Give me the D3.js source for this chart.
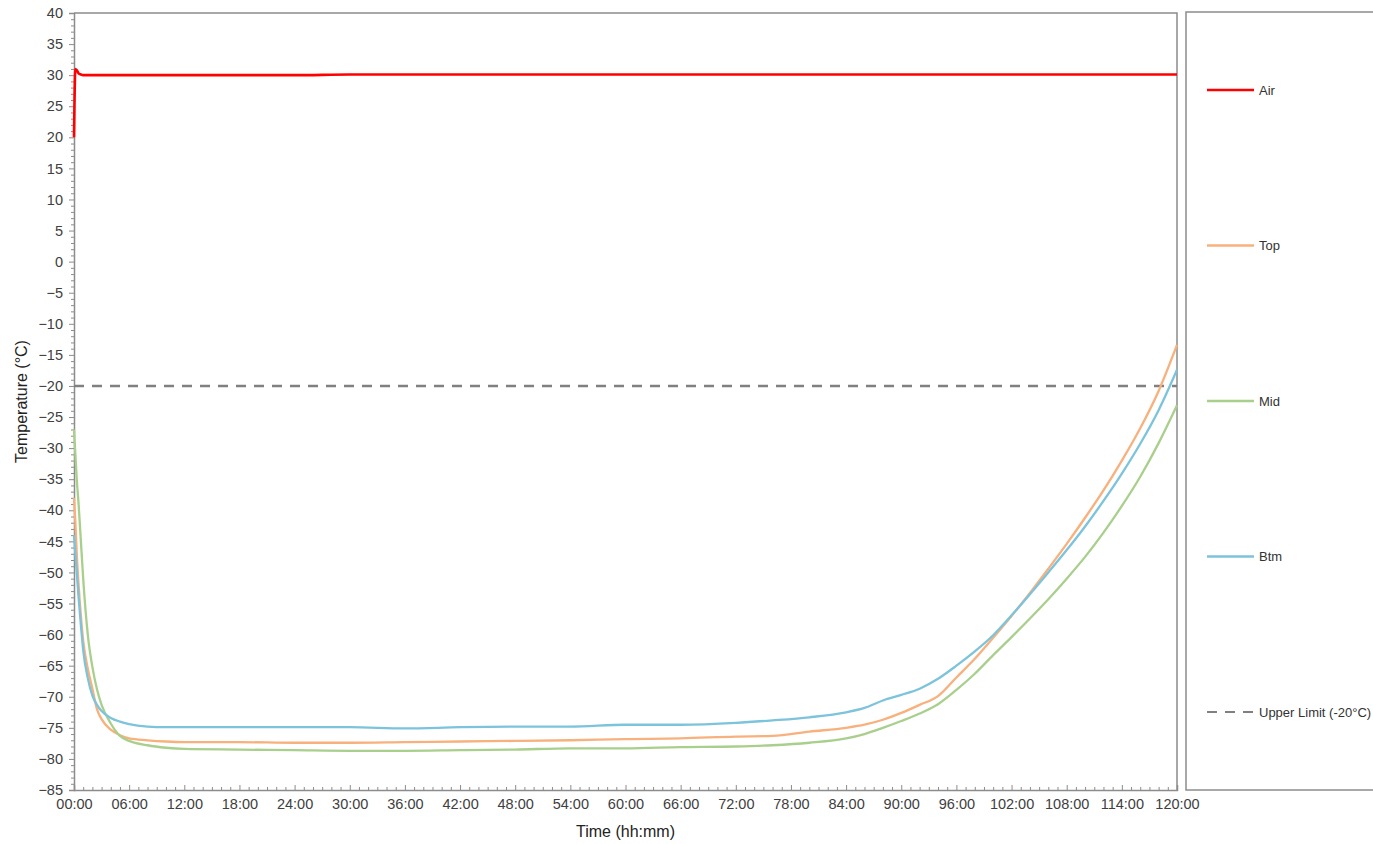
<!DOCTYPE html>
<html><head><meta charset="utf-8">
<script src="https://cdn.jsdelivr.net/npm/d3@7"></script>
<style>
html,body{margin:0;padding:0;background:#fff;}
svg{display:block;font-family:"Liberation Sans",Arial,sans-serif;}
</style></head>
<body><svg id="chart" width="1373" height="844"></svg>
<script>
// ---- data (hours, °C) ----
const times = [0,0.15,0.3,0.5,0.75,1,1.5,2,2.5,3,4,5,6,8,10,12,18,24,30,36,42,48,54,60,66,72,76,80,84,86,88,90,92,94,96,98,100,102,104,106,108,110,112,114,116,118,120];
const airValues = [20,31,30.8,30.3,30.1,30,30,30,30,30,30,30,30,30,30,30,30,30,30.1,30.1,30.1,30.1,30.1,30.1,30.1,30.1,30.1,30.1,30.1,30.1,30.1,30.1,30.1,30.1,30.1,30.1,30.1,30.1,30.1,30.1,30.1,30.1,30.1,30.1,30.1,30.1,30.1];
const topValues = [-38,-42,-47,-52,-57,-61,-65.5,-68.7,-72,-73.6,-75.3,-76.2,-76.7,-77.0,-77.2,-77.3,-77.3,-77.4,-77.4,-77.3,-77.2,-77.1,-77.0,-76.8,-76.7,-76.4,-76.3,-75.6,-75.0,-74.5,-73.7,-72.6,-71.3,-69.9,-66.9,-63.9,-60.5,-57.0,-53.3,-49.4,-45.4,-41.2,-36.8,-32.0,-26.8,-20.8,-13.4];
const midValues = [-27,-31,-35,-39,-45,-51,-60,-65.2,-68.8,-71.3,-74.3,-76.3,-77.1,-77.8,-78.2,-78.4,-78.5,-78.6,-78.7,-78.7,-78.6,-78.5,-78.3,-78.3,-78.1,-78.0,-77.8,-77.4,-76.7,-76.0,-75.0,-73.9,-72.7,-71.2,-68.9,-66.3,-63.3,-60.4,-57.4,-54.3,-51.0,-47.5,-43.6,-39.3,-34.6,-29.2,-23.1];
const btmValues = [-44,-47,-50,-54,-58.5,-62.5,-67,-69.8,-71.3,-72.3,-73.4,-74.0,-74.4,-74.8,-74.9,-74.9,-74.9,-74.9,-74.9,-75.1,-74.9,-74.8,-74.8,-74.5,-74.5,-74.2,-73.8,-73.3,-72.5,-71.8,-70.6,-69.7,-68.7,-67.1,-65.0,-62.7,-60.1,-56.9,-53.5,-50.0,-46.4,-42.6,-38.5,-34.1,-29.3,-23.9,-17.4];
const upperLimit = -20;
const seriesNames = ["Air","Top","Mid","Btm"];
const seriesColors = ["#ff0000","#f8b07c","#a9cf8c","#7cc3dc"];
const xTickHours = d3.range(0,121,6);
const yTickValues = d3.range(-85,41,5);

// ---- layout ----
const svg = d3.select("#chart");
const L = 74, R = 1177, T = 13, B = 790;
const x = d3.scaleLinear().domain([0,120]).range([L,R]);
const y = d3.scaleLinear().domain([-85,40]).range([B,T]);
const axisColor = "#8c8c8c", textColor = "#404040";

const fmt = h => String(h).padStart(2,"0") + ":00";

// frame (top and right)
svg.append("path").attr("d",`M${L},${T}H${R}V${B}`).attr("fill","none").attr("stroke",axisColor).attr("stroke-width",1.5);

// y axis
const yAxis = d3.axisLeft(y).tickValues(yTickValues).tickSize(5).tickPadding(6);
const gy = svg.append("g").attr("transform",`translate(${L},0)`).call(yAxis);
gy.select(".domain").attr("stroke",axisColor).attr("stroke-width",1.5);
gy.selectAll(".tick line").attr("stroke",axisColor);
gy.selectAll("text").attr("fill",textColor).style("font-size","14.5px");
const gym = svg.append("g").attr("transform",`translate(${L},0)`).call(d3.axisLeft(y).tickValues(d3.range(-85,41,1).filter(v=>v%5!==0)).tickSize(3).tickFormat(""));
gym.select(".domain").remove();
gym.selectAll(".tick line").attr("stroke",axisColor);

// x axis
const xAxis = d3.axisBottom(x).tickValues(xTickHours).tickFormat(fmt).tickSize(-5).tickPadding(9);
const gx = svg.append("g").attr("transform",`translate(0,${B})`).call(xAxis);
gx.select(".domain").attr("stroke",axisColor).attr("stroke-width",1.5);
gx.selectAll(".tick line").attr("stroke",axisColor);
gx.selectAll("text").attr("fill",textColor).style("font-size","14.5px");
const gxm = svg.append("g").attr("transform",`translate(0,${B})`).call(d3.axisBottom(x).tickValues(d3.range(0,121,1).filter(v=>v%6!==0)).tickSize(-3).tickFormat(""));
gxm.select(".domain").remove();
gxm.selectAll(".tick line").attr("stroke",axisColor);

// axis titles
svg.append("text").attr("transform",`translate(27,${(T+B)/2}) rotate(-90)`).attr("text-anchor","middle").attr("fill","#222").style("font-size","16px").text("Temperature (°C)");
svg.append("text").attr("x",(L+R)/2).attr("y",837).attr("text-anchor","middle").attr("fill","#222").style("font-size","16px").text("Time (hh:mm)");

// upper limit
svg.append("line").attr("x1",x(0)).attr("x2",x(120)).attr("y1",y(upperLimit)).attr("y2",y(upperLimit))
  .attr("stroke","#808080").attr("stroke-width",2.5).attr("stroke-dasharray","10,8");

// series
const allValues = [airValues, topValues, midValues, btmValues];
const line = d3.line().x(d=>x(d[0])).y(d=>y(d[1])).curve(d3.curveMonotoneX);
const drawOrder = [1,2,3,0];
drawOrder.forEach(i=>{
  const pts = times.map((t,k)=>[t, allValues[i][k]]);
  svg.append("path").datum(pts).attr("d",line).attr("fill","none")
    .attr("stroke",seriesColors[i]).attr("stroke-width",i===0?2.6:2.3).attr("stroke-linejoin","round");
});

// legend
svg.append("rect").attr("x",1186).attr("y",12).attr("width",260).attr("height",778).attr("fill","none").attr("stroke",axisColor).attr("stroke-width",1.5);
const legendItems = seriesNames.map((n,i)=>({name:n,color:seriesColors[i],dash:null,w:i===0?2.6:2.3}))
  .concat([{name:"Upper Limit (-20°C)",color:"#808080",dash:"10,8",w:2}]);
const ly = d3.scalePoint().domain(legendItems.map(d=>d.name)).range([90,712]);
legendItems.forEach(d=>{
  svg.append("line").attr("x1",1207).attr("x2",1254).attr("y1",ly(d.name)).attr("y2",ly(d.name))
    .attr("stroke",d.color).attr("stroke-width",d.w).attr("stroke-dasharray",d.dash);
  svg.append("text").attr("x",1259).attr("y",ly(d.name)).attr("dy","0.35em").attr("fill","#333").style("font-size","13px").text(d.name);
});
</script></body></html>
